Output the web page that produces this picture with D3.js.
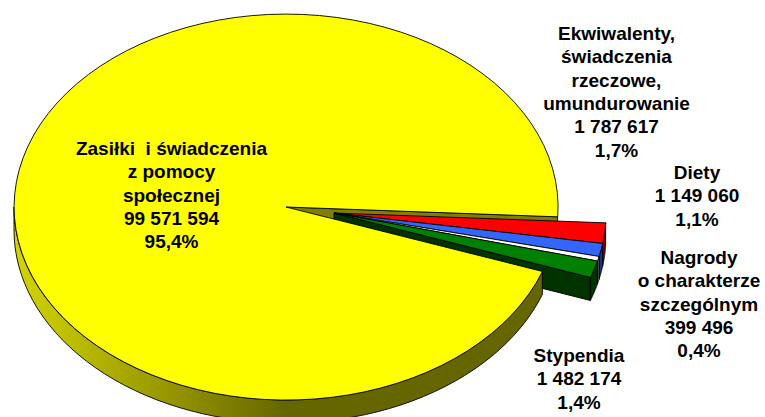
<!DOCTYPE html>
<html><head><meta charset="utf-8">
<script src="https://cdn.jsdelivr.net/npm/d3@7/dist/d3.min.js"></script>
<style>html,body{margin:0;background:#fff;overflow:hidden}svg{display:block}
text{font-family:"Liberation Sans",Arial,sans-serif;font-weight:700;font-size:19px;fill:#000;text-anchor:middle;white-space:pre}</style>
</head><body><svg id="c" width="765" height="417"></svg>
<script>
const names = ["Ekwiwalenty","Diety","Nagrody","Stypendia","Zasiłki"];
const values = [1787617, 1149060, 399496, 1482174, 99571594];
const topColors = ["#ff0000","#3366ff","#ffffff","#008000","#ffff00"];
const wallColors = ["#800000","#1a3380","#808080","#003300","#666600"];
const labels = [
  ["Ekwiwalenty,","świadczenia","rzeczowe,","umundurowanie","1 787 617","1,7%"],
  ["Diety","1 149 060","1,1%"],
  ["Nagrody","o charakterze","szczególnym","399 496","0,4%"],
  ["Stypendia","1 482 174","1,4%"],
  ["Zasiłki  i świadczenia","z pomocy","społecznej","99 571 594","95,4%"]
];
const labelX = [616.5,697,699,579,171.5];
const labelY = [40,179,264,362,155];
const lineStep = 23.3;

const cx=286, cy=207, rx=272, ry=193, depth=23, explodeX=48, explodeY=6;
const startDeg=92.9;
const svg=d3.select("#c");
const pie=d3.pie().sort(null).startAngle(startDeg*Math.PI/180).endAngle((startDeg+360)*Math.PI/180);
const arcs=pie(values);
const arc=d3.arc().innerRadius(0).outerRadius(1);
const pt=(a,ox,oy)=>[ox+rx*Math.sin(a),oy-ry*Math.cos(a)];
const line=d3.line();
function wallPath(a0,a1,ox,oy){
  const t=d3.range(0,1.0001,1/60).map(f=>a0+(a1-a0)*f);
  const top=t.map(a=>pt(a,ox,oy));
  const bot=t.slice().reverse().map(a=>{const p=pt(a,ox,oy);return [p[0],p[1]+depth];});
  return line(top.concat(bot))+"Z";
}
function cutPath(a,ox,oy){
  const p=pt(a,ox,oy);
  return line([[ox,oy],p,[p[0],p[1]+depth],[ox,oy+depth]])+"Z";
}
const defs=svg.append("defs");
const g=defs.append("linearGradient").attr("id","yw").attr("gradientUnits","userSpaceOnUse")
  .attr("x1",cx-rx).attr("x2",cx+rx).attr("y1",0).attr("y2",0);
[[0,"#d4d400"],[0.5,"#666600"],[1,"#666600"]].forEach(s=>g.append("stop").attr("offset",s[0]).attr("stop-color",s[1]));
const strokeAttrs=s=>s.attr("stroke","#000").attr("stroke-width",0.9).attr("stroke-linejoin","round");
const face=(d,ox,oy,fill)=>strokeAttrs(svg.append("path").attr("d",arc(d))
  .attr("transform",`translate(${ox},${oy}) scale(${rx},${ry})`)
  .attr("vector-effect","non-scaling-stroke").attr("fill",fill));

const main=arcs[4];
strokeAttrs(svg.append("path").attr("d",cutPath(main.endAngle,cx,cy)).attr("fill","#808000"));
const ex=cx+explodeX, ey=cy+explodeY;
strokeAttrs(svg.append("path").attr("d",cutPath(arcs[3].endAngle,ex,ey)).attr("fill",wallColors[3]));
arcs.slice(0,4).forEach((d,i)=>strokeAttrs(svg.append("path").attr("d",wallPath(d.startAngle,d.endAngle,ex,ey)).attr("fill",wallColors[i])));
arcs.slice(0,4).forEach((d,i)=>face(d,ex,ey,topColors[i]));
strokeAttrs(svg.append("path").attr("d",wallPath(main.startAngle,Math.PI*1.5,cx,cy)).attr("fill","url(#yw)"));
face(main,cx,cy,topColors[4]);
labels.forEach((ls,i)=>{
  const t=svg.append("text").attr("x",labelX[i]).attr("y",labelY[i]);
  ls.forEach((s,j)=>t.append("tspan").attr("x",labelX[i]).attr("y",labelY[i]+j*lineStep).text(s));
});
</script></body></html>
